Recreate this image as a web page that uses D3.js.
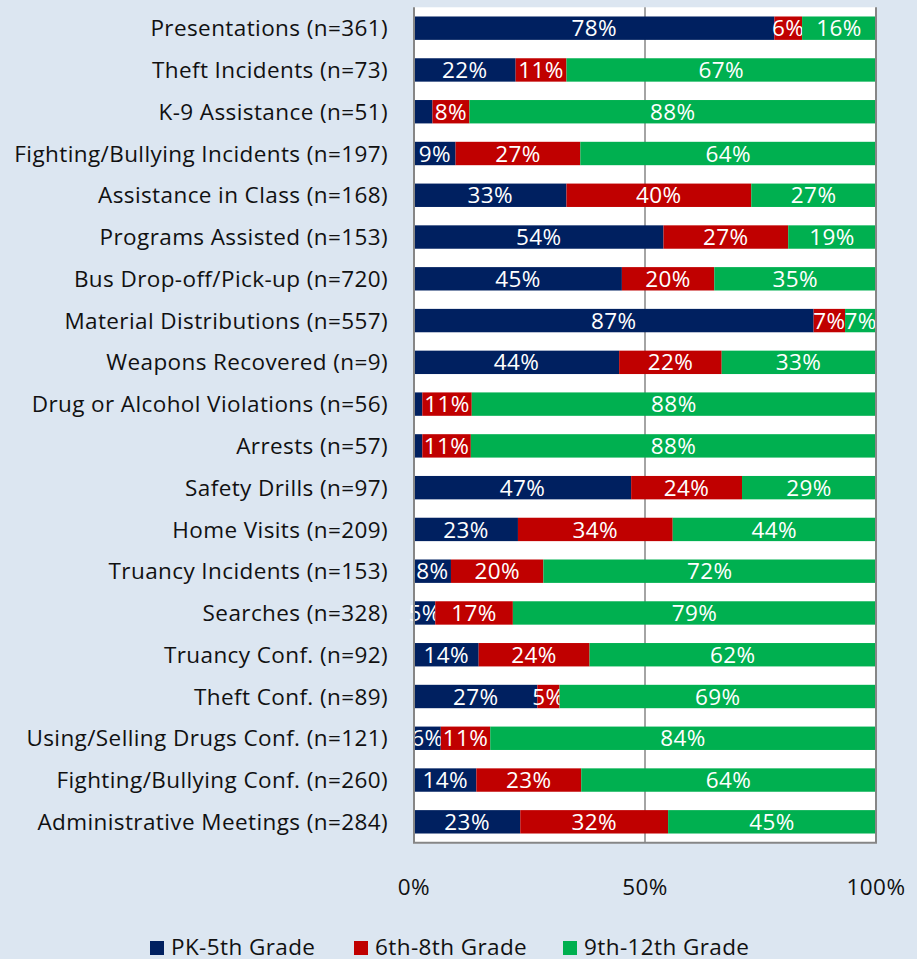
<!DOCTYPE html>
<html>
<head>
<script src="https://d3js.org/d3.v7.min.js"></script>
<style>
  body { margin: 0; background: #dce6f1; }
  svg { display: block; font-family: "Open Sans", sans-serif; letter-spacing: 0.4px; }
</style>
</head>
<body>
<svg width="917" height="959"></svg>
<script>
// categories top to bottom
const categories = [
  "Presentations (n=361)", "Theft Incidents (n=73)", "K-9 Assistance (n=51)",
  "Fighting/Bullying Incidents (n=197)", "Assistance in Class (n=168)",
  "Programs Assisted (n=153)", "Bus Drop-off/Pick-up (n=720)",
  "Material Distributions (n=557)", "Weapons Recovered (n=9)",
  "Drug or Alcohol Violations (n=56)", "Arrests (n=57)", "Safety Drills (n=97)",
  "Home Visits (n=209)", "Truancy Incidents (n=153)", "Searches (n=328)",
  "Truancy Conf. (n=92)", "Theft Conf. (n=89)", "Using/Selling Drugs Conf. (n=121)",
  "Fighting/Bullying Conf. (n=260)", "Administrative Meetings (n=284)"
];
const seriesNames = ["PK-5th Grade", "6th-8th Grade", "9th-12th Grade"];
const pk5 =   [78, 22, 4, 9, 33, 54, 45, 86.5, 44.4, 1.8, 1.8, 47, 22.5, 8, 4.6, 14, 26.7, 5.8, 13.5, 23];
const g6_8 =  [6, 11, 8, 27, 40, 27, 20, 6.8, 22.2, 10.7, 10.5, 24, 33.5, 20, 16.8, 24, 4.8, 10.7, 22.7, 32];
const g9_12 = [16, 67, 88, 64, 27, 19, 35, 6.7, 33.3, 87.5, 87.7, 29, 44, 72, 78.6, 62, 68.5, 83.5, 63.8, 45];
const ticks = [0, 50, 100];
const colors = ["#002060", "#c00000", "#00b050"];

const rows = categories.map((c, i) => ({cat: c, v: [pk5[i], g6_8[i], g9_12[i]]}));

const svg = d3.select("svg");
const pLeft = 414, pRight = 876, pTop = 7.3, pBottom = 842.7;
const fs = 22.5;

const x = d3.scaleLinear().domain([0, 100]).range([pLeft, pRight]);
const y = d3.scaleBand().domain(categories).range([pTop, pBottom])
  .paddingInner(0.44).paddingOuter(0.22);

// plot area
svg.append("rect")
  .attr("x", pLeft).attr("y", pTop)
  .attr("width", pRight - pLeft).attr("height", pBottom - pTop)
  .attr("fill", "#fff");

// 50% gridline
svg.append("line")
  .attr("x1", x(50)).attr("x2", x(50))
  .attr("y1", pTop).attr("y2", pBottom)
  .attr("stroke", "#868686").attr("stroke-width", 1.5);

// bars
rows.forEach(r => {
  let acc = 0;
  r.v.forEach((val, k) => {
    const x0 = x(acc), x1 = x(acc + val);
    svg.append("rect")
      .attr("x", x0).attr("y", y(r.cat))
      .attr("width", x1 - x0).attr("height", y.bandwidth())
      .attr("fill", colors[k]);
    if (val >= 4.5) {
      svg.append("text")
        .attr("x", (x0 + x1) / 2)
        .attr("y", y(r.cat) + y.bandwidth() / 2)
        .attr("dy", "0.36em")
        .attr("text-anchor", "middle")
        .attr("fill", "#fff")
        .attr("font-size", fs)
        .text(Math.round(val) + "%");
    }
    acc += val;
  });
});

// frame lines
svg.append("path")
  .attr("d", `M${pLeft},${pTop}V${pBottom}H${pRight}V${pTop}`)
  .attr("fill", "none").attr("stroke", "#868686").attr("stroke-width", 2);

// category labels
svg.selectAll(".cat").data(categories).enter().append("text")
  .attr("class", "cat")
  .attr("x", 388)
  .attr("y", d => y(d) + y.bandwidth() / 2)
  .attr("dy", "0.36em")
  .attr("text-anchor", "end")
  .attr("font-size", fs)
  .attr("fill", "#111")
  .text(d => d);

// x tick labels
svg.selectAll(".tick").data(ticks).enter().append("text")
  .attr("x", d => x(d))
  .attr("y", 895)
  .attr("text-anchor", "middle")
  .attr("font-size", fs)
  .attr("fill", "#111")
  .text(d => d + "%");

// legend
const legendX = [150, 354, 563];
seriesNames.forEach((s, k) => {
  svg.append("rect")
    .attr("x", legendX[k]).attr("y", 941)
    .attr("width", 14).attr("height", 14)
    .attr("fill", colors[k]);
  svg.append("text")
    .attr("x", legendX[k] + 21).attr("y", 955)
    .attr("font-size", fs).attr("fill", "#111")
    .text(s);
});
</script>
</body>
</html>
